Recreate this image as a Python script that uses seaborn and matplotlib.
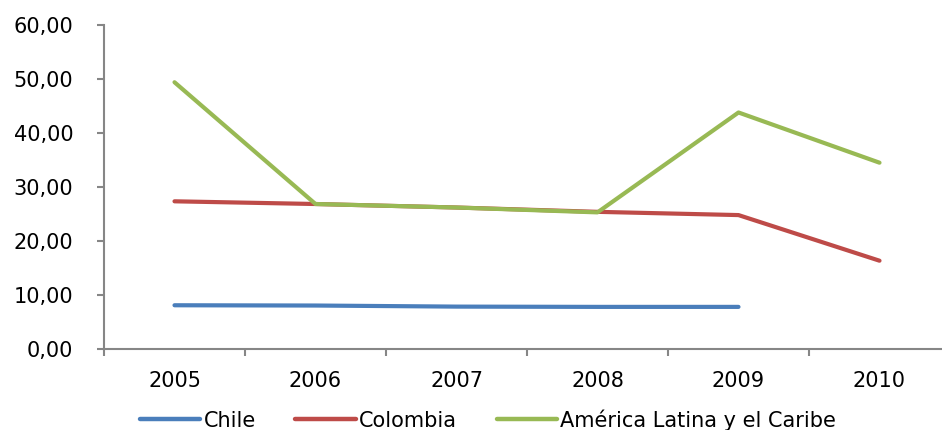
import numpy as np
import pandas as pd
import matplotlib
matplotlib.use("Agg")
import matplotlib.pyplot as plt
import seaborn as sns

years = ["2005", "2006", "2007", "2008", "2009", "2010"]
chile = [8.1, 8.05, 7.85, 7.8, 7.8, np.nan]
colombia = [27.35, 26.85, 26.2, 25.4, 24.8, 16.35]
america_latina = [49.4, 26.85, 26.2, 25.3, 43.8, 34.5]
series_names = ["Chile", "Colombia", "América Latina y el Caribe"]
colors = ["#4A7EBB", "#BE4B48", "#98B954"]
yticks = [0, 10, 20, 30, 40, 50, 60]

df = pd.DataFrame({
    "year": years * 3,
    "value": chile + colombia + america_latina,
    "serie": [series_names[0]] * 6 + [series_names[1]] * 6 + [series_names[2]] * 6,
})

sns.set_style("white")
plt.rcParams["font.family"] = ["DejaVu Sans"]
plt.rcParams["text.color"] = "black"

W, H = 942, 430
fig = plt.figure(figsize=(W / 100, H / 100), dpi=100)
ax = fig.add_axes([104 / W, (H - 349) / H, (950 - 104) / W, (349 - 25) / H])

sns.lineplot(data=df, x="year", y="value", hue="serie", palette=colors,
             linewidth=3.0, ax=ax, sort=False, legend=True)
for ln in ax.get_lines():
    ln.set_solid_capstyle("round")

ax.set_xlim(-0.5, 5.5)
ax.set_ylim(0, 60)
ax.set_xlabel("")
ax.set_ylabel("")

gray = "#868686"
for s in ["top", "right"]:
    ax.spines[s].set_visible(False)
for s in ["left", "bottom"]:
    ax.spines[s].set_color(gray)
    ax.spines[s].set_linewidth(1.5)

ax.set_yticks(yticks)
ax.set_yticklabels([f"{v:.2f}".replace(".", ",") for v in yticks], fontsize=15)
ax.tick_params(axis="y", direction="out", length=5, width=1.5, color=gray, pad=17,
               left=True, labelcolor="black")

ax.set_xticks(range(len(years)))
ax.set_xticklabels(years, fontsize=15)
ax.tick_params(axis="x", which="major", length=0, pad=16, labelcolor="black")
ax.set_xticks(np.arange(-0.5, 6.0, 1.0), minor=True)
ax.tick_params(axis="x", which="minor", direction="out", length=5, width=1.5, color=gray, bottom=True)

handles, labels = ax.get_legend_handles_labels()
ax.get_legend().remove()
leg = fig.legend(handles, labels, loc="center", bbox_to_anchor=(488 / W, 1 - 420 / H),
                 ncol=3, frameon=False, fontsize=15, handlelength=2.9,
                 handletextpad=0.15, columnspacing=1.9, labelcolor="black")
for lh in leg.get_lines():
    lh.set_linewidth(3.2)

fig.savefig("out.png", dpi=100)
